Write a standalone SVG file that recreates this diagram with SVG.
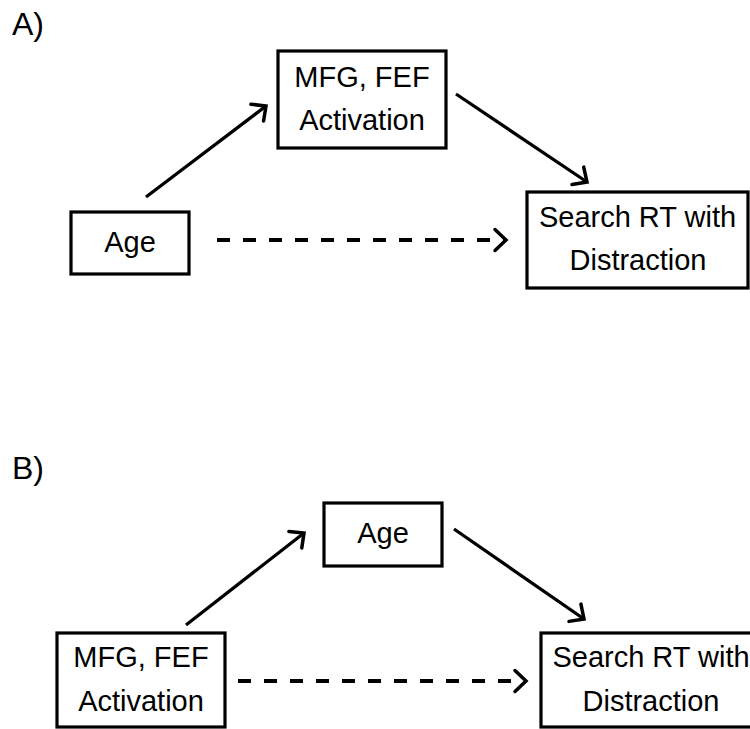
<svg xmlns="http://www.w3.org/2000/svg" width="750" height="729" viewBox="0 0 750 729">
<style>
  .box { fill: #fff; stroke: #000; stroke-width: 3.2; }
  .t { font-family: "Liberation Sans", Arial, sans-serif; font-size: 29px; fill: #000; text-anchor: middle; }
  .lbl { font-family: "Liberation Sans", Arial, sans-serif; font-size: 32px; fill: #000; }
  .edge { fill: none; stroke: #000; stroke-width: 3.3; marker-end: url(#chev); }
  .dash { stroke-dasharray: 13 13; stroke-width: 3.8; }
</style>
<defs>
  <marker id="chev" markerUnits="userSpaceOnUse" markerWidth="30" markerHeight="30" viewBox="-15 -15 30 30" refX="0" refY="0" orient="auto" overflow="visible">
    <path d="M-11,-10.5 L0,0 L-11,10.5" fill="none" stroke="#000" stroke-width="3.5" stroke-linecap="round" stroke-linejoin="miter"/>
  </marker>
</defs>
<rect width="750" height="729" fill="#fff"/>
<text class="lbl" x="12" y="35">A)</text>
<text class="lbl" x="12" y="479">B)</text>

<g id="connectors">
  <path class="edge" d="M146,197 L266,106"/>
  <path class="edge" d="M456,94 L587,182"/>
  <path class="edge dash" d="M217,240 L506,240"/>
  <path class="edge" d="M186,625 L304,533"/>
  <path class="edge" d="M454,529 L584,619"/>
  <path class="edge dash" d="M238,681 L526,681"/>
</g>

<g id="a-mfg">
  <rect class="box" x="278" y="51" width="168" height="97"/>
  <text class="t" x="362" y="87">MFG, FEF</text>
  <text class="t" x="362" y="130">Activation</text>
</g>
<g id="a-age">
  <rect class="box" x="71" y="212" width="118" height="62"/>
  <text class="t" x="130" y="252">Age</text>
</g>
<g id="a-search">
  <rect class="box" x="527" y="192" width="221" height="96"/>
  <text class="t" x="637.5" y="227">Search RT with</text>
  <text class="t" x="638" y="270">Distraction</text>
</g>

<g id="b-age">
  <rect class="box" x="324" y="503" width="118" height="63"/>
  <text class="t" x="383" y="543">Age</text>
</g>
<g id="b-mfg">
  <rect class="box" x="57" y="633" width="168" height="94"/>
  <text class="t" x="141" y="667">MFG, FEF</text>
  <text class="t" x="141" y="711">Activation</text>
</g>
<g id="b-search">
  <rect class="box" x="541" y="633" width="215" height="94"/>
  <text class="t" x="651" y="667">Search RT with</text>
  <text class="t" x="651" y="711">Distraction</text>
</g>
</svg>
